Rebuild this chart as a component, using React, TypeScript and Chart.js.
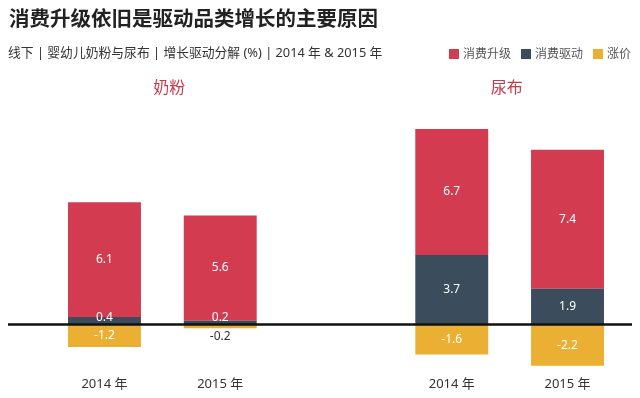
import React, { useEffect, useRef } from "react";
import { Chart, registerables } from "chart.js";

Chart.register(...registerables);

const categories = ["2014 年", "2015 年", "", "2014 年", "2015 年"];
const groups = ["奶粉", "尿布"];
const upgrade = [6.1, 5.6, null, 6.7, 7.4];
const drive = [0.4, 0.2, null, 3.7, 1.9];
const price = [-1.2, -0.2, null, -1.6, -2.2];
const seriesNames = ["消费升级", "消费驱动", "涨价"];
const colors = ["#d23b50", "#3b4c5c", "#ebb033"];

const FONT = '"Noto Sans", "Noto Sans CJK SC", sans-serif';

const overlayPlugin = {
  id: "overlay",
  afterDatasetsDraw(chart: any) {
    const ctx = chart.ctx;
    ctx.save();
    chart.data.datasets.forEach((ds: any, di: number) => {
      const meta = chart.getDatasetMeta(di);
      meta.data.forEach((el: any, i: number) => {
        const v = ds.data[i];
        if (v === null || v === undefined) return;
        const top = Math.min(el.y, el.base);
        const bottom = Math.max(el.y, el.base);
        ctx.font = `12px ${FONT}`;
        ctx.textAlign = "center";
        ctx.textBaseline = "middle";
        if (v < 0 && Math.abs(v) < 0.5) {
          ctx.fillStyle = "#333333";
          ctx.fillText(v.toFixed(1), el.x, bottom + 8);
        } else if (v > 0 && bottom - top < 12) {
          ctx.fillStyle = "#ffffff";
          ctx.fillText(v.toFixed(1), el.x, bottom - 7);
        } else {
          ctx.fillStyle = "#ffffff";
          ctx.fillText(v.toFixed(1), el.x, (top + bottom) / 2);
        }
      });
    });
    const y0 = chart.scales.y.getPixelForValue(0);
    ctx.strokeStyle = "#111111";
    ctx.lineWidth = 2.5;
    ctx.beginPath();
    ctx.moveTo(8, y0);
    ctx.lineTo(632, y0);
    ctx.stroke();
    const xs = chart.scales.x;
    ctx.font = `16px ${FONT}`;
    ctx.fillStyle = "#c8394d";
    ctx.textAlign = "center";
    ctx.textBaseline = "middle";
    const g0 = (xs.getPixelForValue(0) + xs.getPixelForValue(1)) / 2 + 7;
    const g1 = (xs.getPixelForValue(3) + xs.getPixelForValue(4)) / 2 - 3;
    ctx.fillText(groups[0], g0, 88);
    ctx.fillText(groups[1], g1, 88);
    ctx.restore();
  },
};

export default function App() {
  const ref = useRef<HTMLCanvasElement>(null);
  useEffect(() => {
    if (!ref.current) return;
    const chart = new Chart(ref.current, {
      type: "bar",
      data: {
        labels: categories,
        datasets: [
          { label: seriesNames[1], data: drive, backgroundColor: colors[1], stack: "s", order: 1 },
          { label: seriesNames[0], data: upgrade, backgroundColor: colors[0], stack: "s", order: 2 },
          { label: seriesNames[2], data: price, backgroundColor: colors[2], stack: "s", order: 3 },
        ],
      },
      options: {
        animation: false,
        responsive: false,
        maintainAspectRatio: false,
        layout: { padding: { left: 46.6, right: 14.6, top: 89.5, bottom: 0 } },
        datasets: { bar: { categoryPercentage: 1, barPercentage: 0.63 } },
        plugins: { legend: { display: false }, tooltip: { enabled: false }, title: { display: false } },
        scales: {
          x: {
            stacked: true,
            grid: { display: false, drawTicks: false },
            border: { display: false },
            ticks: { color: "#333333", font: { family: FONT, size: 13 }, padding: 5.5 },
          },
          y: {
            stacked: true,
            display: false,
            min: -2.5,
            max: 12.5,
          },
        },
      },
      plugins: [overlayPlugin],
    });
    return () => chart.destroy();
  }, []);

  const legendItems = seriesNames.map((n, i) => (
    <span key={n} style={{ display: "inline-flex", alignItems: "center", marginLeft: 10 }}>
      <span style={{ width: 10, height: 10, background: colors[i], display: "inline-block", marginRight: 4 }} />
      <span>{n}</span>
    </span>
  ));

  return (
    <div style={{ position: "fixed", left: 0, top: 0, width: 640, height: 398, background: "#fff", fontFamily: FONT }}>
      <canvas ref={ref} width={640} height={398} style={{ position: "absolute", left: 0, top: 0, width: 640, height: 398 }} />
      <div style={{ position: "absolute", left: 9, top: 4, fontSize: 20.5, fontWeight: 700, color: "#222", lineHeight: "28px", whiteSpace: "nowrap" }}>
        消费升级依旧是驱动品类增长的主要原因
      </div>
      <div style={{ position: "absolute", left: 8, top: 42, fontSize: 12.8, color: "#333", lineHeight: "20px", whiteSpace: "nowrap" }}>
        线下 | 婴幼儿奶粉与尿布 | 增长驱动分解 (%) | 2014 年 &amp; 2015 年
      </div>
      <div style={{ position: "absolute", right: 9, top: 44, fontSize: 12, color: "#555", lineHeight: "20px", whiteSpace: "nowrap", display: "flex" }}>
        {legendItems}
      </div>
    </div>
  );
}
